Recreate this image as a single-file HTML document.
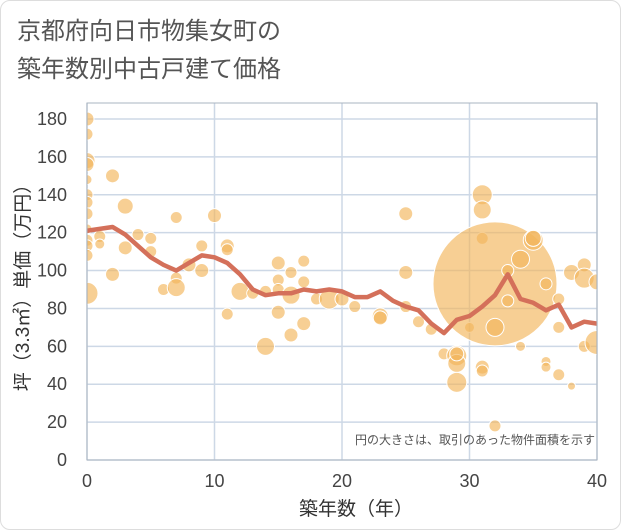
<!DOCTYPE html>
<html><head><meta charset="utf-8">
<style>
html,body{margin:0;padding:0;background:#fff;}
body{width:621px;height:530px;overflow:hidden;font-family:"Liberation Sans","Noto Sans CJK JP",sans-serif;}
#frame{position:absolute;left:0;top:0;width:619px;height:528px;border:1px solid #ddd;border-radius:10px;}
</style></head><body>
<div id="frame"></div>
<svg id="chart" width="621" height="530" style="position:absolute;left:0;top:0">
<text x="17" y="39" font-size="24" fill="#555">京都府向日市物集女町の</text>
<text x="17" y="77" font-size="24" fill="#555">築年数別中古戸建て価格</text>
<defs><clipPath id="pc"><rect x="87" y="103" width="510" height="357"/></clipPath></defs>
<g id="grid"></g>
<g id="bubbles" clip-path="url(#pc)"></g>
<g id="line"></g>
<g id="axes"></g>
<text x="595" y="444" font-size="12" fill="#555" text-anchor="end">円の大きさは、取引のあった物件面積を示す</text>
<text x="356" y="515" font-size="19" fill="#333" text-anchor="middle">築年数（年）</text>
<text transform="translate(29,283) rotate(-90)" font-size="19" fill="#333" text-anchor="middle">坪（3.3㎡）単価（万円）</text>
</svg>
<script>
const xTicks=[0,10,20,30,40];
const yTicks=[0,20,40,60,80,100,120,140,160,180];
const lineYears=[0,1,2,3,4,5,6,7,8,9,10,11,12,13,14,15,16,17,18,19,20,21,22,23,24,25,26,27,28,29,30,31,32,33,34,35,36,37,38,39,40];
const lineValues=[121,122,123,119,113,107,103,100,104,108,107,104,98,90,87,88,88,90,89,90,89,86,86,89,84,81,79,72,67,74,76,81,87,98,85,83,79,82,70,73,72];
const bubbleYears=[0,0,0,0,0,0,0,0,0,0,0,0,0,1,1,2,2,3,3,4,5,5,6,7,7,7,8,9,9,10,11,11,11,12,13,14,14,15,15,15,15,16,16,16,17,17,17,18,19,20,21,23,23,25,25,25,26,27,28,29,29,29,29,30,31,31,31,31,31,32,32,32,33,33,34,34,35,35,36,36,36,37,37,37,38,38,39,39,39,40,40];
const bubblePrices=[180,172,158,156,148,140,136,130,122,116,113,108,88,118,114,150,98,134,112,119,117,110,90,128,96,91,103,113,100,129,113,111,77,89,88,60,89,104,95,78,90,99,87,66,105,94,72,85,85,85,81,76,75,130,99,81,73,69,56,55,51,41,56,70,140,132,117,49,47,93,70,18,100,84,106,60,116,117,93,52,49,85,70,45,99,39,103,96,60,94,62];
const bubbleSizes=[7,6,8,7,5,6,6,6,5,6,6,6,11,6,5,7,7,8,7,6,6,6,6,6,6,9,7,6,7,7,7,6,6,9,6,9,6,7,6,7,6,6,9,7,6,6,7,6,10,7,6,8,7,7,7,6,6,6,6,10,9,10,7,5,10,9,6,7,6,62,9,6,6,6,9,5,10,8,6,5,5,6,6,6,8,4,7,10,6,8,12];
const X0=87,X1=597,Y0=460,YT=119;
const xs=v=>X0+(v-0)/40*(X1-X0);
const ys=v=>Y0-(v/180)*(Y0-YT);
const NS="http://www.w3.org/2000/svg";
function mk(tag,attrs,parent){const e=document.createElementNS(NS,tag);for(const k in attrs)e.setAttribute(k,attrs[k]);parent.appendChild(e);return e;}
const grid=document.getElementById('grid'),axes=document.getElementById('axes'),bub=document.getElementById('bubbles'),ln=document.getElementById('line');
yTicks.forEach(t=>{
 const g=mk('line',{x1:X0,x2:X1,y1:ys(t),y2:ys(t),stroke:'#cdd8e6','stroke-width':1.5},grid);
 
 
 const tx=mk('text',{x:67,y:ys(t)+6,'font-size':18,fill:'#444','text-anchor':'end'},axes);
 tx.textContent=t;
 
 
});
xTicks.forEach(t=>{
 const g=mk('line',{x1:xs(t),x2:xs(t),y1:103,y2:Y0,stroke:'#cdd8e6','stroke-width':1.5},grid);
 
 
 const tx=mk('text',{x:xs(t),y:487,'font-size':18,fill:'#444','text-anchor':'middle'},axes);
 tx.textContent=t;
 
 
});
const bd=mk('rect',{x:X0,y:103,width:X1-X0,height:Y0-103,fill:'none',stroke:'#aab4c0','stroke-width':1},axes);


bubbleYears.forEach((yr,i)=>{
 const c=mk('circle',{cx:xs(yr),cy:ys(bubblePrices[i]),r:bubbleSizes[i],fill:'#f2b55a','fill-opacity':0.65,stroke:'#fff','stroke-width':1},bub);
 
 
});
const pts=lineYears.map((y,i)=>xs(y)+','+ys(lineValues[i])).join(' ');
const pl=mk('polyline',{points:pts,fill:'none',stroke:'#d4705a','stroke-width':4.5,'stroke-linejoin':'round'},ln);


</script>
</body></html>
